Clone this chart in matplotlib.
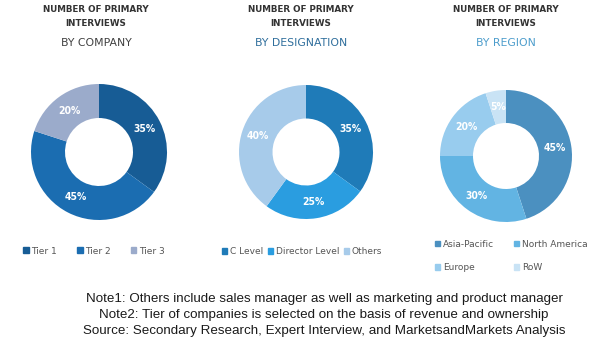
import matplotlib
matplotlib.use('Agg')
import matplotlib.pyplot as plt
from matplotlib.patches import Patch
import numpy as np

W, H = 600, 347

# data
company_labels = ['Tier 1', 'Tier 2', 'Tier 3']
company_vals = [35, 45, 20]
company_cols = ['#175c95', '#1b6db1', '#9babcb']

desig_labels = ['C Level', 'Director Level', 'Others']
desig_vals = [35, 25, 40]
desig_cols = ['#1f7bb8', '#2a9de0', '#a7cbea']

region_labels = ['Asia-Pacific', 'North America', 'Europe', 'RoW']
region_vals = [45, 30, 20, 5]
region_cols = ['#4b90c0', '#62b4e3', '#98ccee', '#c9e3f5']

subtitles = ['BY COMPANY', 'BY DESIGNATION', 'BY REGION']
subtitle_cols = ['#404040', '#2f6e9c', '#4d9dcc']

notes = ['Note1: Others include sales manager as well as marketing and product manager',
         'Note2: Tier of companies is selected on the basis of revenue and ownership',
         'Source: Secondary Research, Expert Interview, and MarketsandMarkets Analysis']

fig = plt.figure(figsize=(W / 100, H / 100), dpi=100)
fig.patch.set_facecolor('white')


def px(x, y):
    return x / W, 1 - y / H


def donut(cx, cy, r, vals, cols):
    ax = fig.add_axes([(cx - r) / W, (H - cy - r) / H, 2 * r / W, 2 * r / H])
    wedges, _ = ax.pie(vals, colors=cols, startangle=90, counterclock=False,
                       radius=1, wedgeprops=dict(width=0.5, edgecolor='none'))
    for w, v in zip(wedges, vals):
        ang = np.deg2rad((w.theta1 + w.theta2) / 2)
        ax.text(0.75 * np.cos(ang), 0.75 * np.sin(ang), '%d%%' % v, color='white',
                fontsize=7.5, fontweight='bold', ha='center', va='center',
                fontstretch='condensed')
    ax.set_xlim(-1, 1)
    ax.set_ylim(-1, 1)
    ax.set_aspect('equal')
    ax.axis('off')
    return ax


donut(99, 152, 68, company_vals, company_cols)
donut(306, 152, 67, desig_vals, desig_cols)
donut(506, 156, 66, region_vals, region_cols)

# titles
for cx, sub, sc in zip([96, 301, 506], subtitles, subtitle_cols):
    fig.text(*px(cx, 10), 'NUMBER OF PRIMARY', ha='center', va='center',
             fontsize=6.3, fontweight='bold', color='#333333')
    fig.text(*px(cx, 23), 'INTERVIEWS', ha='center', va='center',
             fontsize=6.3, fontweight='bold', color='#333333')
    fig.text(*px(cx, 43), sub, ha='center', va='center', fontsize=7.8,
             color=sc)

# legends
leg_kw = dict(frameon=False, fontsize=6.5, handlelength=0.6, handleheight=0.6,
              handletextpad=0.3, labelcolor='#555555', loc='center')

h1 = [Patch(color=c) for c in company_cols]
fig.legend(h1, company_labels, ncol=3, columnspacing=2.2,
           bbox_to_anchor=px(94, 251), **leg_kw)

h2 = [Patch(color=c) for c in desig_cols]
fig.legend(h2, desig_labels, ncol=3, columnspacing=0.5,
           bbox_to_anchor=px(302, 252), **leg_kw)

h3 = [Patch(color=c) for c in region_cols]
order = [0, 2, 1, 3]
fig.legend([h3[i] for i in order], [region_labels[i] for i in order], ncol=2,
           columnspacing=2.2, labelspacing=1.6,
           bbox_to_anchor=px(511, 256), **leg_kw)

# notes
for i, t in enumerate(notes):
    fig.text(*px(324, 299 + 16 * i), t, ha='center', va='center',
             fontsize=9.6, family='Liberation Sans', color='#1a1a1a')

fig.savefig('out.png', dpi=100, facecolor='white')
